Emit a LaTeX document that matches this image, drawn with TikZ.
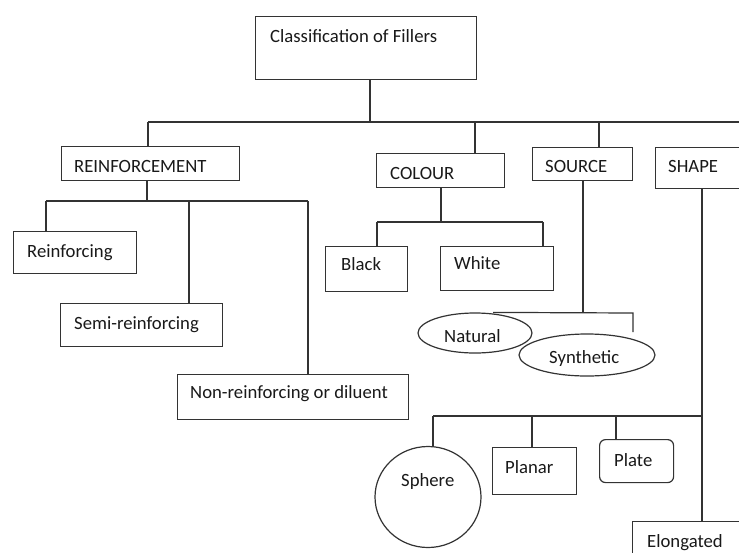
\documentclass[tikz,border=0pt]{standalone}
\usepackage{fontspec}
\setmainfont{Carlito}
\usetikzlibrary{shapes.geometric}
\begin{document}
\begin{tikzpicture}[x=1pt,y=-1pt,
  box/.style={draw=black!80,rectangle,anchor=north west,inner sep=0pt,line width=1.2pt},
  oval/.style={draw=black!80,ellipse,inner sep=0pt,line width=1.2pt},
  txt/.style={anchor=base west,inner sep=0pt,text=black!90,font=\fontsize{18.7}{22}\selectfont},
  conn/.style={draw=black!80,line width=1.2pt}]
\clip (0,0) rectangle (739,552);
\fill[white] (0,0) rectangle (739,552);
% boxes
\node[box,minimum width=221pt,minimum height=63pt] (top) at (255,16) {};
\node[box,minimum width=178pt,minimum height=34pt] (reinf) at (61,146) {};
\node[box,minimum width=128pt,minimum height=34pt] (colour) at (376,153) {};
\node[box,minimum width=100pt,minimum height=33pt] (source) at (532,147) {};
\node[box,minimum width=110pt,minimum height=41pt] (shape) at (655,147) {};
\node[box,minimum width=123pt,minimum height=42pt] (reinforcing) at (13,231) {};
\node[box,minimum width=162pt,minimum height=43pt] (semi) at (60,303) {};
\node[box,minimum width=231pt,minimum height=45pt] (nonreinf) at (177,374) {};
\node[box,minimum width=82pt,minimum height=45pt] (black) at (325,246) {};
\node[box,minimum width=113pt,minimum height=44pt] (white) at (440,246) {};
\node[oval,minimum width=114pt,minimum height=40pt] (natural) at (475,333) {};
\node[oval,minimum width=136pt,minimum height=42pt] (synthetic) at (587,355) {};
\node[oval,minimum width=106pt,minimum height=101pt] (sphere) at (428,497) {};
\node[box,minimum width=84pt,minimum height=47pt] (planar) at (492,447) {};
\node[box,rounded corners=6pt,minimum width=74pt,minimum height=43pt] (plate) at (599,439) {};
\node[box,minimum width=130pt,minimum height=60pt] (elongated) at (632,521) {};
% texts
\node[txt] (tTop) at (270,42) {Classification of Fillers};
\node[txt] (tReinf) at (74,172) {REINFORCEMENT};
\node[txt] (tColour) at (390,179) {COLOUR};
\node[txt] (tSource) at (545,172) {SOURCE};
\node[txt] (tShape) at (668,172) {SHAPE};
\node[txt] (tReinforcing) at (27,257) {Reinforcing};
\node[txt] (tSemi) at (74,329) {Semi-reinforcing};
\node[txt] (tNon) at (190,398) {Non-reinforcing or diluent};
\node[txt] (tBlack) at (341,270) {Black};
\node[txt] (tWhite) at (454,269) {White};
\node[txt] (tNatural) at (444,342) {Natural};
\node[txt] (tSynthetic) at (549,363) {Synthetic};
\node[txt] (tSphere) at (401,486) {Sphere};
\node[txt] (tPlanar) at (505,473) {Planar};
\node[txt] (tPlate) at (614,466) {Plate};
\node[txt] (tElong) at (647,547) {Elongated};
% junction coordinates
\coordinate (j0) at (370,122);
\coordinate (busL) at (148,122);
\coordinate (busR) at (760,122);
\coordinate (jc) at (475,122);
\coordinate (js) at (599,122);
\coordinate (r0) at (147,201);
\coordinate (rL) at (46,201);
\coordinate (rM) at (189,201);
\coordinate (rR) at (308,201);
\coordinate (c0) at (441,222);
\coordinate (cL) at (377,222);
\coordinate (cR) at (543,222);
\coordinate (s0) at (583,313);
\coordinate (sL) at (493,313);
\coordinate (sR) at (633,313);
\coordinate (sEnd) at (633,332);
\coordinate (h0) at (702,416);
\coordinate (hA) at (433,416);
\coordinate (hB) at (532,416);
\coordinate (hC) at (616,416);
% connectors
\draw[conn] (top.south -| j0) -- (j0);
\draw[conn] (busL) -- (busR);
\draw[conn] (busL) -- (reinf.north -| busL);
\draw[conn] (jc) -- (colour.north -| jc);
\draw[conn] (js) -- (source.north -| js);
\draw[conn] (reinf.south -| r0) -- (r0);
\draw[conn] (rL) -- (rR);
\draw[conn] (rL) -- (reinforcing.north -| rL);
\draw[conn] (rM) -- (semi.north -| rM);
\draw[conn] (rR) -- (nonreinf.north -| rR);
\draw[conn] (colour.south -| c0) -- (c0);
\draw[conn] (cL) -- (cR);
\draw[conn] (cL) -- (black.north -| cL);
\draw[conn] (cR) -- (white.north -| cR);
\draw[conn] (source.south -| s0) -- (s0);
\draw[conn] (natural.north -| sL) -- (sR) -- (sEnd);
\draw[conn] (shape.south -| h0) -- (elongated.north -| h0);
\draw[conn] (hA) -- (h0);
\draw[conn] (hA) -- (sphere.north -| hA);
\draw[conn] (hB) -- (planar.north -| hB);
\draw[conn] (hC) -- (plate.north -| hC);
\end{tikzpicture}
\end{document}
